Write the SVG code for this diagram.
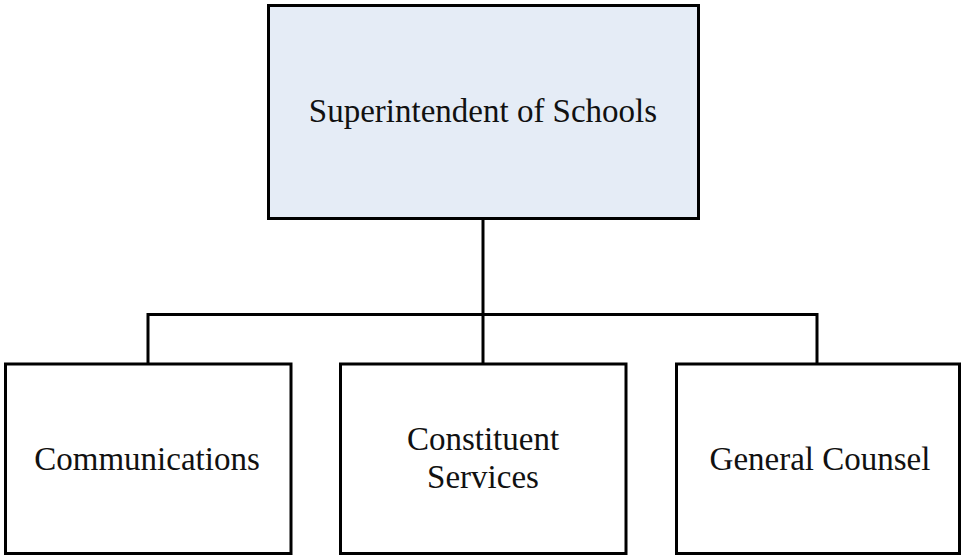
<svg xmlns="http://www.w3.org/2000/svg" width="962" height="557" viewBox="0 0 962 557">
  <style>
    .box { stroke: #000; stroke-width: 3; }
    .top { fill: #e5ecf6; }
    .sub { fill: #fff; }
    .lbl { font-family: "Liberation Serif", "DejaVu Serif", serif; font-size: 33px; fill: #111; text-anchor: middle; }
    .conn { fill: none; stroke: #000; stroke-width: 3; }
  </style>
  <rect width="962" height="557" fill="#fff"/>
  <g id="connectors">
    <path class="conn" d="M483 219 V314.5"/>
    <path class="conn" d="M148 363 V314.5 H817 V363"/>
    <path class="conn" d="M483 314.5 V363"/>
  </g>
  <g id="superintendent">
    <rect class="box top" x="268.5" y="5.5" width="430" height="213"/>
    <text class="lbl" x="483" y="122">Superintendent of Schools</text>
  </g>
  <g id="communications">
    <rect class="box sub" x="5.5" y="364" width="285.5" height="189.5"/>
    <text class="lbl" x="147" y="470">Communications</text>
  </g>
  <g id="constituent-services">
    <rect class="box sub" x="340.5" y="364" width="285.5" height="189.5"/>
    <text class="lbl" x="483" y="450">Constituent</text>
    <text class="lbl" x="483" y="488">Services</text>
  </g>
  <g id="general-counsel">
    <rect class="box sub" x="676.5" y="364" width="283" height="189.5"/>
    <text class="lbl" x="820" y="470">General Counsel</text>
  </g>
</svg>
